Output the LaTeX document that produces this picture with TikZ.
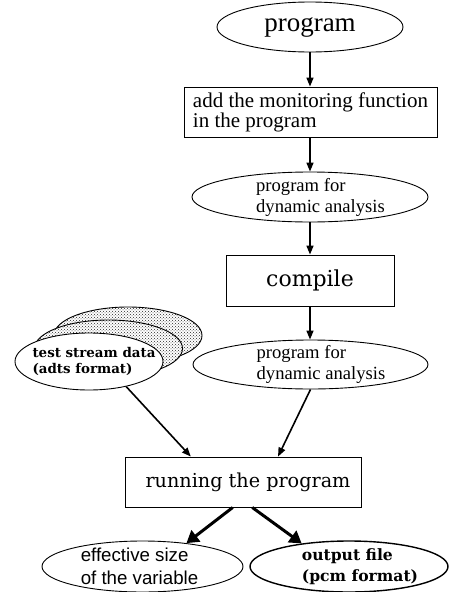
\documentclass[tikz,border=0pt]{standalone}
\usepackage{fontspec}
\setmainfont{Liberation Serif}
\setsansfont{Liberation Sans}
\newfontfamily\schfont{DejaVu Serif}
\usetikzlibrary{
  arrows.meta,
  patterns,
  shapes.geometric
}
\newcommand{\fsz}[2]{\fontsize{#1}{#2}\selectfont}

\begin{document}
\begin{tikzpicture}[x=1pt, y=-1pt,
  box/.style={draw, line width=0.9pt, rectangle, inner sep=0pt},
  oval/.style={draw, line width=0.9pt, ellipse, inner xsep=-20pt, inner ysep=-10pt},
  stackoval/.style={oval, minimum width=148pt, minimum height=57pt,
    preaction={fill=white}, pattern=crosshatch dots, pattern color=black!85},
  flow/.style={line width=1.6pt, -{Triangle[length=9pt, width=7pt]}},
  heavyflow/.style={line width=3pt, -{Triangle[length=12pt, width=14pt]}}
]
  \useasboundingbox (0,0) rectangle (449,592);

  %% --- Main column: program -> monitoring -> compile ---
  \node[oval, minimum width=186pt, minimum height=50pt, font=\fsz{27}{30}]
    (prog) at (310,27) {program};
  \node[box, minimum width=253pt, minimum height=50pt,
    align=left, font=\fsz{21}{20}]
    (monitor) at (310.5,112) {add the monitoring function\\in the program};
  \node[oval, minimum width=236pt, minimum height=50pt,
    align=left, font=\fsz{18.6}{21}]
    (dyn1) at (310,197)
    {\hspace*{21pt}program for\\\hspace*{21pt}dynamic analysis};
  \node[box, minimum width=168pt, minimum height=51pt, font=\schfont\fsz{22}{24}]
    (compile) at (310,280.5) {compile};
  \node[oval, minimum width=235pt, minimum height=49pt,
    align=left, font=\fsz{18.6}{21}]
    (dyn2) at (310.5,364.5)
    {\hspace*{21pt}program for\\\hspace*{21pt}dynamic analysis};

  %% --- Stack of test stream data (back to front) ---
  \node[stackoval] (test3) at (128,335.5) {};
  \node[stackoval] (test2) at (108.5,348.5) {};
  \node[oval, fill=white, minimum width=148pt, minimum height=57pt,
    align=left, font=\schfont\bfseries\fsz{13.4}{16}]
    (test) at (89,361.5)
    {\hspace*{10pt}test stream data\\\hspace*{10pt}(adts format)};

  %% --- Running and results ---
  \node[box, minimum width=236pt, minimum height=50pt, font=\schfont\fsz{19.2}{24}]
    (run) at (243,482) {\hspace*{10pt}running the program};
  \node[oval, minimum width=201pt, minimum height=51pt,
    align=left, font=\sffamily\fsz{18.7}{23}]
    (effsize) at (142.5,566.5)
    {effective size\\of the variable\hspace*{6pt}};
  \node[oval, line width=1.4pt, minimum width=198pt, minimum height=51pt,
    align=left, font=\schfont\bfseries\fsz{15.6}{21}]
    (outfile) at (349,566.5)
    {\hspace*{22pt}output file\\\hspace*{22pt}(pcm format)};

  %% --- Connectors ---
  \draw[flow] (prog.south) -- (prog.south |- monitor.north);
  \draw[flow] (dyn1.north |- monitor.south) -- (dyn1.north);
  \draw[flow] (dyn1.south) -- (dyn1.south |- compile.north);
  \draw[flow] (compile.south) -- (compile.south |- dyn2.north);
  \draw[flow] (dyn2.south) -- (run.36);
  \draw[flow] (test.-34) -- (run.154);
  \draw[heavyflow] (run.248) -- (effsize.28);
  \draw[heavyflow] (run.290) -- (outfile.154);
\end{tikzpicture}
\end{document}
